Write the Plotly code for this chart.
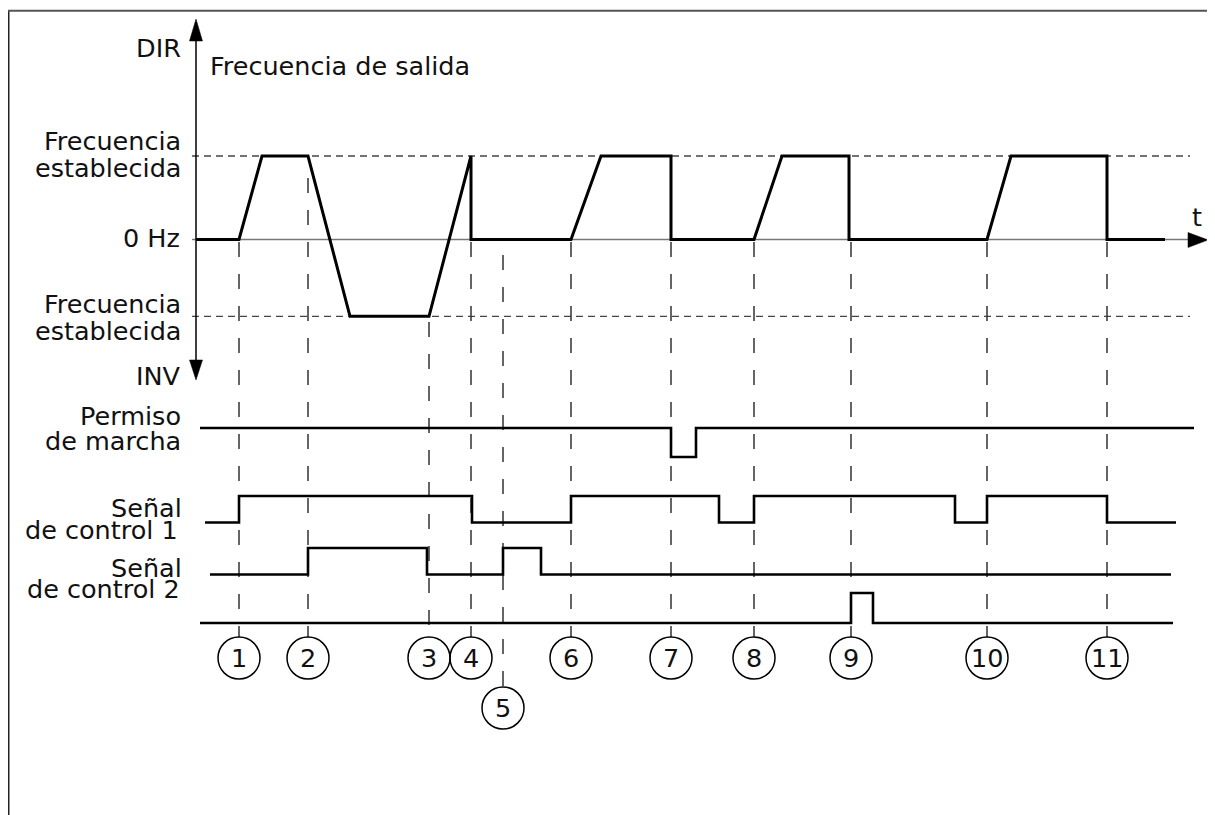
import plotly.graph_objects as go

# ── Datos (tiempo en unidades arbitrarias, 0 = eje vertical) ────────────────
event_labels = ["1", "2", "3", "4", "5", "6", "7", "8", "9", "10", "11"]
event_times = [4.3, 11.2, 23.3, 27.5, 30.7, 37.5, 47.5, 55.8, 65.5, 79.1, 91.1]

set_freq_dir = 1.0
set_freq_inv = -0.92

# frecuencia de salida (1 = frecuencia establecida DIR)
freq_t = [0.0, 4.3, 6.6, 11.2, 15.4, 23.3, 27.5, 27.5, 37.5, 40.5, 47.5, 47.5,
          55.8, 58.6, 65.3, 65.3, 79.1, 81.5, 91.1, 91.1, 96.9]
freq_v = [0, 0, 1, 1, -0.92, -0.92, 1, 0, 0, 1, 1, 0,
          0, 1, 1, 0, 0, 1, 1, 0, 0]

# señales lógicas (escalón)
run_t = [0.4, 47.5, 50.0, 99.8]
run_v = [1, 0, 1, 1]
ctrl1_t = [0.9, 4.3, 27.6, 37.5, 52.3, 55.8, 75.9, 79.1, 91.1, 98.0]
ctrl1_v = [0, 1, 0, 1, 0, 1, 0, 1, 0, 0]
ctrl2_t = [1.4, 11.2, 23.1, 30.7, 34.5, 97.5]
ctrl2_v = [0, 1, 0, 1, 0, 0]
ctrl3_t = [0.4, 65.5, 67.7, 97.7]
ctrl3_v = [0, 1, 0, 0]

axis_labels = ["DIR", "Frecuencia", "establecida", "0 Hz", "Frecuencia",
               "establecida", "INV"]
signal_labels = ["Permiso", "de marcha", "Señal", "de control 1",
                 "Señal", "de control 2"]
title_text = "Frecuencia de salida"
time_text = "t"

# ── Geometría (px de la ventana; el body del HTML añade 8 px de margen) ──────
OFF = 8
W, H = 1215 - OFF, 815 - OFF
FONT = "DejaVu Sans"
FS = 25.5
INK = "#111111"


def X(px):
    return (px - OFF) / W


def Y(py):
    return 1 - (py - OFF) / H


def row_axis(py_hi, py_lo, top, bottom):
    # valor 1 en py_hi, valor 0 en py_lo
    scale = py_lo - py_hi
    return dict(domain=[Y(bottom), Y(top)],
                range=[-(bottom - py_lo) / scale, 1 + (py_hi - top) / scale],
                visible=False, fixedrange=True, anchor="x")


def time_range(px_axis, px_per_unit):
    return [(OFF - px_axis) / px_per_unit, (OFF + W - px_axis) / px_per_unit]


fig = go.Figure()

rows = [
    (freq_t, freq_v, "y", 3.0, "linear"),
    (run_t, run_v, "y2", 2.6, "hv"),
    (ctrl1_t, ctrl1_v, "y3", 2.6, "hv"),
    (ctrl2_t, ctrl2_v, "y4", 2.6, "hv"),
    (ctrl3_t, ctrl3_v, "y5", 2.6, "hv"),
]
for t, v, ax, w, shape in rows:
    fig.add_trace(go.Scatter(
        x=t, y=v, yaxis=ax, mode="lines",
        line=dict(color="#000000", width=w, shape=shape),
        hoverinfo="skip", showlegend=False,
    ))

shapes = []

# marco
shapes.append(dict(type="line", xref="paper", yref="paper",
                   x0=X(8.5), x1=X(8.5), y0=Y(10), y1=Y(815),
                   line=dict(color="#222", width=2)))
shapes.append(dict(type="line", xref="paper", yref="paper",
                   x0=X(8), x1=X(1215), y0=Y(10.7), y1=Y(10.7),
                   line=dict(color="#555", width=2)))

# líneas de frecuencia establecida
for fv in (set_freq_dir, set_freq_inv):
    shapes.append(dict(type="line", xref="paper", yref="y",
                       x0=X(192), x1=X(1190), y0=fv, y1=fv,
                       line=dict(color="#444", width=1.3, dash="7px,5px"),
                       layer="below"))

# 0 Hz
shapes.append(dict(type="line", xref="paper", yref="y",
                   x0=X(192), x1=X(1192), y0=0, y1=0,
                   line=dict(color="#777", width=1.5), layer="below"))

# eje vertical
shapes.append(dict(type="line", xref="paper", yref="paper",
                   x0=X(196), x1=X(196), y0=Y(38), y1=Y(364),
                   line=dict(color="#000", width=1.5)))


def tri(pts):
    p = " L ".join(f"{X(a):.5f},{Y(b):.5f}" for a, b in pts)
    return dict(type="path", xref="paper", yref="paper", path=f"M {p} Z",
                fillcolor="#000", line=dict(color="#000", width=0.5))


shapes.append(tri([(196, 19), (189.5, 41), (202.5, 41)]))
shapes.append(tri([(196, 380), (189.5, 360), (202.5, 360)]))
shapes.append(tri([(1208, 240), (1188, 232.5), (1188, 247.5)]))

# líneas de eventos y círculos
start_px = {2: 178, 3: 322, 5: 255}
for i, (lab, t) in enumerate(zip(event_labels, event_times), start=1):
    cy = 708 if i == 5 else 658
    y_start = start_px.get(i, 242)
    shapes.append(dict(type="line", xref="x", yref="paper",
                       x0=t, x1=t, y0=Y(y_start), y1=Y(cy - 21),
                       line=dict(color="#333", width=1.5, dash="15px,17px"),
                       layer="below"))
    shapes.append(dict(type="circle", xref="x", yref="paper",
                       xsizemode="pixel", xanchor=t, x0=-21, x1=21,
                       y0=Y(cy + 21), y1=Y(cy - 21),
                       line=dict(color="#000", width=1.5)))

annotations = []


def txt(text, x, xref, baseline, xanchor, size=FS):
    annotations.append(dict(
        text=text, x=x, xref=xref, y=Y(baseline - 0.35 * size), yref="paper",
        xanchor=xanchor, yanchor="middle", showarrow=False,
        font=dict(family=FONT, size=size, color=INK),
    ))


axis_pos = [(183, 57), (183, 150), (183, 177), (182, 247), (183, 313),
            (183, 340), (183, 385)]
for text, (rx, bl) in zip(axis_labels, axis_pos):
    txt(text, X(rx), "paper", bl, "right")

sig_pos = [(183, 425), (183, 450), (184, 517), (180, 539), (184, 577), (182, 598)]
for text, (rx, bl) in zip(signal_labels, sig_pos):
    txt(text, X(rx), "paper", bl, "right")

txt(title_text, X(208), "paper", 75, "left")
txt(time_text, X(1197), "paper", 226, "center")

for i, (lab, t) in enumerate(zip(event_labels, event_times), start=1):
    cy = 708 if i == 5 else 658
    annotations.append(dict(
        text=lab, x=t, xref="x", y=Y(cy), yref="paper",
        xanchor="center", yanchor="middle", showarrow=False,
        font=dict(family=FONT, size=FS, color=INK),
    ))

fig.update_layout(
    width=W, height=H,
    margin=dict(l=0, r=0, t=0, b=0),
    paper_bgcolor="white", plot_bgcolor="white",
    xaxis=dict(range=time_range(196, 10), domain=[0, 1], visible=False,
               fixedrange=True),
    yaxis=dict(domain=[Y(395), Y(20)],
               range=[-(395 - 239.5) / 83.5, (239.5 - 20) / 83.5],
               visible=False, fixedrange=True),
    yaxis2=row_axis(428, 457, 400, 470),
    yaxis3=row_axis(496, 522.5, 474, 536),
    yaxis4=row_axis(548, 574.5, 538, 584),
    yaxis5=row_axis(593, 623, 586, 632),
    shapes=shapes,
    annotations=annotations,
    showlegend=False,
)

fig.write_html("out.html")
